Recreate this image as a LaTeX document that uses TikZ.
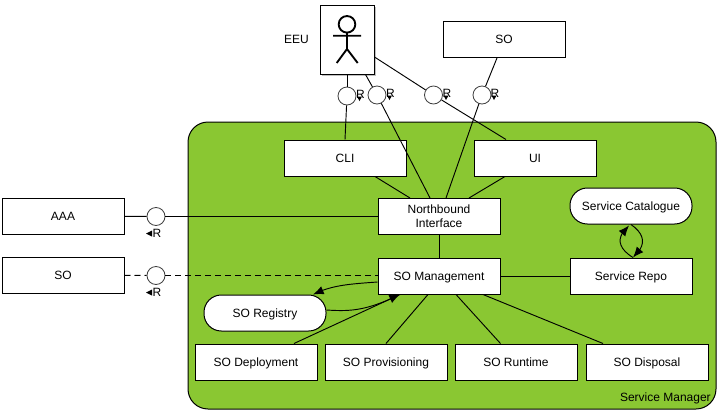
\documentclass[tikz,border=0pt]{standalone}
\usepackage{fontspec}
\setmainfont{Liberation Sans}
\usetikzlibrary{arrows.meta,shadows,calc,bending}
\tikzset{
  x=0.75pt,y=-0.75pt,
  box/.style={draw=black,fill=white,line width=0.75pt,minimum width=91.5pt,minimum height=27pt,inner sep=0pt,align=center,font=\fontsize{9}{10.5}\selectfont},
  single/.style={box,text height=6.6pt,text depth=0pt},
  pill/.style={single,rounded corners=13pt},
  iface/.style={circle,draw=black!75,fill=white,line width=0.6pt,minimum size=13.5pt,inner sep=0pt},
  link/.style={draw=black,line width=0.7pt},
  dlink/.style={link,dash pattern=on 4.5pt off 3pt},
  lbl/.style={inner sep=0pt,font=\fontsize{9}{10.5}\selectfont},
  tip/.style={-{Latex[length=8pt,width=6.5pt,flex]}},
}
\begin{document}
\begin{tikzpicture}
\useasboundingbox (0,0) rectangle (719,411);
\fill[white] (0,0) rectangle (719,411);
\node[rounded corners=15pt,draw=black,fill={rgb,255:red,138;green,199;blue,50},line width=0.75pt,minimum width=396pt,minimum height=215.25pt,inner sep=0pt] (sm) at (452,265.5) {};
\node[lbl,anchor=east] (smlbl) at (711,398) {Service Manager};

\node[box,minimum width=40.5pt,minimum height=51.75pt,drop shadow={shadow xshift=1.2pt,shadow yshift=-1.2pt,opacity=.5}] (eeu) at (347,39.5) {};
\node[lbl] (eeulbl) at (296.5,39.5) {EEU};
\draw[line width=1.4pt] (347,24.3) circle[radius=8.3];
\draw[line width=1.4pt] (347,32.6) -- (347,49) (333,35.7) -- (361,35.7) (336.7,63) -- (347,49) -- (357.7,63);

\node[single] (sotop) at (504,39.5) {SO};
\node[single] (cli) at (345,158) {CLI};
\node[single] (ui) at (535,158) {UI};
\node[box] (nb) at (439,216.5) {Northbound\\Interface};
\node[single] (som) at (439,276) {SO Management};
\node[pill] (cat) at (631,206) {Service Catalogue};
\node[single] (repo) at (631,276) {Service Repo};
\node[single] (aaa) at (63,216) {AAA};
\node[single] (soleft) at (63,275) {SO};
\node[pill] (reg) at (265,313) {SO Registry};
\node[single] (dep) at (256,362) {SO Deployment};
\node[single] (prov) at (386,362) {SO Provisioning};
\node[single] (run) at (516,362) {SO Runtime};
\node[single] (disp) at (647,362) {SO Disposal};

\node[iface] (i1) at (347,96) {};
\node[iface] (i2) at (377,95) {};
\node[iface] (i3) at (433.5,95) {};
\node[iface] (i4) at (482,95) {};
\node[iface] (i5) at (156,216.5) {};
\node[iface] (i6) at (156,275.5) {};

% connectors
\path[link] (eeu.south -| i1) -- (i1);
\path[link] (i1) -- (cli.north);
\path[link] ($(eeu.south)+(18.5,0)$) -- (i2);
\path[link] (i2) -- ($(nb.north)+(-9,0)$);
\path[link] ($(eeu.east)+(0,17.5)$) -- (i3);
\path[link] (i3) -- ($(ui.north)+(-29,0)$);
\path[link] ($(sotop.south)+(-7,0)$) -- (i4);
\path[link] (i4) -- ($(nb.north)+(7,0)$);
\path[link] ($(cli.south)+(30,0)$) -- ($(nb.north)+(-29,0)$);
\path[link] ($(ui.south)+(-30,0)$) -- ($(nb.north)+(30,0)$);
\path[link] (nb) -- (som);
\path[link] (som) -- (repo);
\path[link] (aaa) -- (i5);
\path[link] (i5) -- (i5 -| nb.west);
\path[dlink] (soleft) -- (i6);
\path[dlink] (i6) -- (i6 -| som.west);
\path[link] ($(som.south)+(-11,0)$) -- (prov.north);
\path[link] ($(dep.north)+(38,0)$) -- ($(som.south)+(-39,0)$);
\path[link] ($(som.south)+(17,0)$) -- ($(run.north)+(-15.5,0)$);
\path[link] ($(som.south)+(44,0)$) -- ($(disp.north)+(-44,0)$);
\draw[link,tip] ($(som.west)+(0,6)$) .. controls (350,284) and (332,285) .. ($(reg.north)+(48,0)$);
\draw[link,tip] ($(reg.east)+(0,-3)$) .. controls (350,311.5) and (366,311) .. ($(som.south)+(-39,0)$);
\draw[link,tip] ($(repo.north)+(2,0)$) .. controls (616,247) and (617,236) .. ($(cat.south)+(-2,1)$);
\draw[link,tip] (cat.south) .. controls (646,235) and (646,246) .. ($(repo.north)+(2,0)$);

\foreach \n/\xx/\yy in {r1/360.5/94,r2/390.5/93,r3/447/93,r4/495/93}{
  \node[lbl] (\n) at (\xx,\yy) {R};
  \fill (\xx-3.5,\yy+2.5) -- (\xx+1.5,\yy+2.5) -- (\xx-1,\yy+7) -- cycle;
}
\foreach \n/\yy in {r5/233.5,r6/292.5}{
  \node[lbl] (\n) at (157,\yy) {R};
  \fill (152,\yy-3) -- (152,\yy+3) -- (146,\yy) -- cycle;
}
\end{tikzpicture}
\end{document}
